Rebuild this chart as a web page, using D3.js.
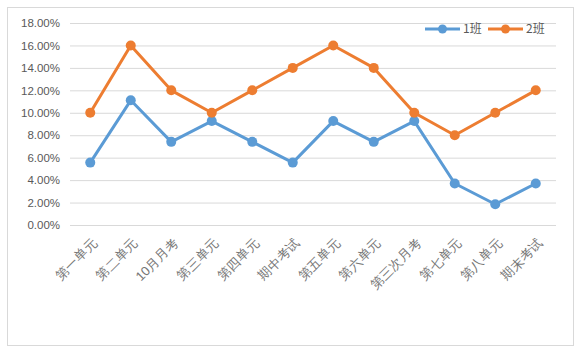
<!DOCTYPE html>
<html>
<head>
<meta charset="utf-8">
<script src="https://cdn.jsdelivr.net/npm/d3@7"></script>
<style>
  body { margin: 0; background: #fff; }
  svg { display: block; font-family: "Noto Sans CJK SC", "Noto Sans", sans-serif; }
</style>
</head>
<body>
<div id="chart"></div>
<script>
var categories = ["第一单元", "第二单元", "10月月考", "第三单元", "第四单元", "期中考试",
  "第五单元", "第六单元", "第三次月考", "第七单元", "第八单元", "期末考试"];
var class1 = [5.56, 11.11, 7.41, 9.26, 7.41, 5.56, 9.26, 7.41, 9.26, 3.70, 1.85, 3.70];
var class2 = [10, 16, 12, 10, 12, 14, 16, 14, 10, 8, 10, 12];
var seriesNames = ["1班", "2班"];
var yTicks = [0, 2, 4, 6, 8, 10, 12, 14, 16, 18];

var width = 581, height = 353,
    margin = {top: 23, right: 25, bottom: 128, left: 70},
    innerWidth = width - margin.left - margin.right,
    innerHeight = height - margin.top - margin.bottom,
    colors = ["#5B9BD5", "#ED7D31"];

var svg = d3.select("#chart").append("svg")
    .attr("width", width)
    .attr("height", height);

// outer chart frame
svg.append("rect")
    .attr("x", 7.5).attr("y", 7.5)
    .attr("width", 566).attr("height", 338)
    .attr("fill", "#fff")
    .attr("stroke", "#d9d9d9");

var g = svg.append("g")
    .attr("transform", "translate(" + margin.left + "," + margin.top + ")");

var xScale = d3.scalePoint()
    .domain(categories)
    .range([0, innerWidth])
    .padding(0.5);

var yScale = d3.scaleLinear()
    .domain([0, 18])
    .range([innerHeight, 0]);

// gridlines + y labels
var yAxis = g.append("g")
    .call(d3.axisLeft(yScale).tickValues(yTicks)
        .tickSize(-innerWidth).tickPadding(10)
        .tickFormat(function(d) { return d.toFixed(2) + "%"; }));
yAxis.select(".domain").remove();
yAxis.selectAll("line").attr("stroke", "#d9d9d9").attr("stroke-width", 1);
yAxis.selectAll("text").attr("fill", "#595959").style("font-size", "11.5px")
    .style("font-family", "'Liberation Sans', 'Noto Sans', sans-serif");

// x labels, rotated
var xAxis = g.append("g")
    .attr("transform", "translate(0," + innerHeight + ")")
    .call(d3.axisBottom(xScale).tickSize(0).tickPadding(0));
xAxis.select(".domain").remove();
xAxis.selectAll("text")
    .attr("fill", "#767676")
    .style("font-size", "13px")
    .style("font-weight", "300")
    .attr("text-anchor", "end")
    .attr("dy", null)
    .attr("transform", "translate(7,19) rotate(-45)");

var data = [class1, class2];
var line = d3.line()
    .x(function(d, i) { return xScale(categories[i]); })
    .y(function(d) { return yScale(d); });

data.forEach(function(values, k) {
    g.append("path")
        .datum(values)
        .attr("fill", "none")
        .attr("stroke", colors[k])
        .attr("stroke-width", 3)
        .attr("stroke-linejoin", "round")
        .attr("d", line);
    g.selectAll(".pt" + k)
        .data(values)
        .enter().append("circle")
        .attr("class", "pt" + k)
        .attr("cx", function(d, i) { return xScale(categories[i]); })
        .attr("cy", function(d) { return yScale(d); })
        .attr("r", 5)
        .attr("fill", colors[k]);
});

// legend
var legend = svg.append("g").attr("transform", "translate(425,29)");
seriesNames.forEach(function(name, k) {
    var lg = legend.append("g").attr("transform", "translate(" + (k * 63) + ",0)");
    lg.append("line").attr("x1", 0).attr("x2", 35)
        .attr("stroke", colors[k]).attr("stroke-width", 3);
    lg.append("circle").attr("cx", 17.5).attr("r", 4.5).attr("fill", colors[k]);
    lg.append("text").attr("x", 38).attr("dy", "0.35em")
        .attr("fill", "#595959").style("font-size", "12px").text(name);
});
</script>
</body>
</html>
